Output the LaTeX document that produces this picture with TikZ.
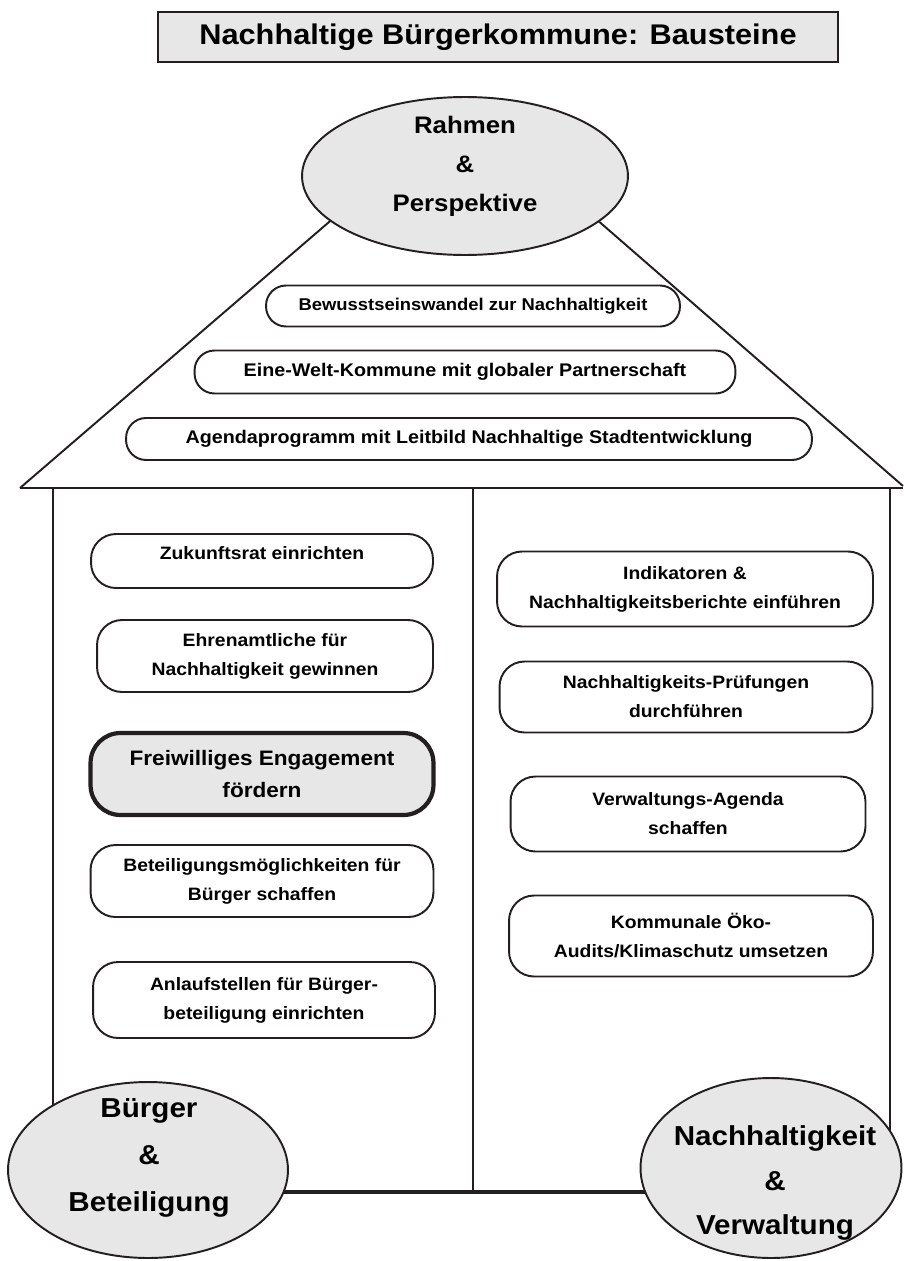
\documentclass[tikz,border=0pt]{standalone}
\usepackage{fontspec}
\setmainfont{Liberation Sans}[FakeStretch=1.08]
\usetikzlibrary{shapes.geometric}
\definecolor{housegray}{RGB}{230,231,230}
\definecolor{houseline}{RGB}{35,31,32}

\begin{document}
\begin{tikzpicture}[x=0.02cm, y=-0.02cm,
    line/.style={draw=houseline, line width=1.1pt},
    roofbox/.style={line, rounded corners=0.4cm, fill=white, align=center,
        font=\fontsize{10.4}{12}\selectfont\bfseries},
    wallbox/.style={line, rounded corners=0.5cm, fill=white, align=center,
        font=\fontsize{10.2}{16.5}\selectfont\bfseries},
    oval/.style={line, ellipse, fill=housegray, inner sep=0pt}]
    \useasboundingbox (0,0) rectangle (903,1261);

    % Titel
    \node[line, fill=housegray, minimum width=13.6cm, minimum height=1cm,
        font=\fontsize{16.2}{19}\selectfont\bfseries] (titel) at (498,37)
        {Nachhaltige Bürgerkommune: Bausteine};

    % Dach und Wände
    \coordinate (eaveL) at (20,488);
    \coordinate (apex) at (465,105);
    \coordinate (eaveR) at (903,486);
    \coordinate (wallL) at (53,488);
    \coordinate (wallM) at (473,488);
    \coordinate (wallR) at (890,488);
    \coordinate (groundL) at (53,1192);
    \coordinate (groundM) at (473,1192);
    \coordinate (groundR) at (890,1192);
    \draw[line] (eaveL) -- (apex) -- (eaveR);
    \draw[line, line width=1.5pt] (eaveL) -- (903,488);
    \draw[line] (wallL) -- (groundL);
    \draw[line] (wallM) -- (groundM);
    \draw[line] (wallR) -- (groundR);
    \draw[line, line width=1.8pt] (groundL) -- (groundR);

    % Ellipsen
    \node[oval, minimum width=6.52cm, minimum height=3.16cm] (rahmen) at (465,176) {};
    \node[font=\fontsize{13.6}{22.1}\selectfont\bfseries, align=center] (rahmentext)
        at (465,166) {Rahmen\\\&\\Perspektive};
    \node[oval, minimum width=5.6cm, minimum height=3.52cm] (buerger) at (148,1170) {};
    \node[font=\fontsize{15.6}{26.6}\selectfont\bfseries, align=center] (buergertext)
        at (149,1158) {Bürger\\\&\\Beteiligung};
    \node[oval, minimum width=5.22cm, minimum height=3.6cm] (verwaltung) at (771,1168) {};
    \node[font=\fontsize{15.6}{25.5}\selectfont\bfseries, align=center] (verwaltungtext)
        at (775,1183) {Nachhaltigkeit\\\&\\Verwaltung};

    % Dach: Bausteine
    \node[roofbox, minimum width=8.28cm, minimum height=0.82cm,
        font=\fontsize{9.7}{12}\selectfont\bfseries] (bewusst) at (473,306)
        {Bewusstseinswandel zur Nachhaltigkeit};
    \node[roofbox, minimum width=10.82cm, minimum height=0.86cm] (einewelt) at (465,372)
        {Eine-Welt-Kommune mit globaler Partnerschaft};
    \node[roofbox, minimum width=13.72cm, minimum height=0.84cm] (agenda) at (469,439)
        {Agendaprogramm mit Leitbild Nachhaltige Stadtentwicklung};

    % linke Seite
    \node[wallbox, minimum width=6.84cm, minimum height=1.08cm, text depth=9pt] (zukunft)
        at (262,561) {Zukunftsrat einrichten};
    \node[wallbox, minimum width=6.72cm, minimum height=1.44cm] (ehrenamt) at (265,656)
        {Ehrenamtliche für\\Nachhaltigkeit gewinnen};
    \node[wallbox, line width=2.4pt, fill=housegray, rounded corners=0.6cm,
        minimum width=6.86cm, minimum height=1.64cm,
        font=\fontsize{11.9}{18.7}\selectfont\bfseries] (freiwillig) at (262,774)
        {Freiwilliges Engagement\\fördern};
    \node[wallbox, minimum width=6.86cm, minimum height=1.44cm] (beteiligung) at (262,881)
        {Beteiligungsmöglichkeiten für\\Bürger schaffen};
    \node[wallbox, minimum width=6.84cm, minimum height=1.52cm] (anlauf) at (264,1000)
        {Anlaufstellen für Bürger-\\beteiligung einrichten};

    % rechte Seite
    \node[wallbox, minimum width=7.52cm, minimum height=1.5cm] (indikatoren) at (685,589)
        {Indikatoren \&\\Nachhaltigkeitsberichte einführen};
    \node[wallbox, minimum width=7.46cm, minimum height=1.42cm] (pruefung) at (686,697)
        {Nachhaltigkeits-Prüfungen\\durchführen};
    \node[wallbox, minimum width=7.1cm, minimum height=1.5cm] (vagenda) at (688,814)
        {Verwaltungs-Agenda\\schaffen};
    \node[wallbox, minimum width=7.28cm, minimum height=1.62cm] (oekoaudit) at (691,936)
        {Kommunale Öko-\\Audits/Klimaschutz umsetzen};
\end{tikzpicture}
\end{document}
